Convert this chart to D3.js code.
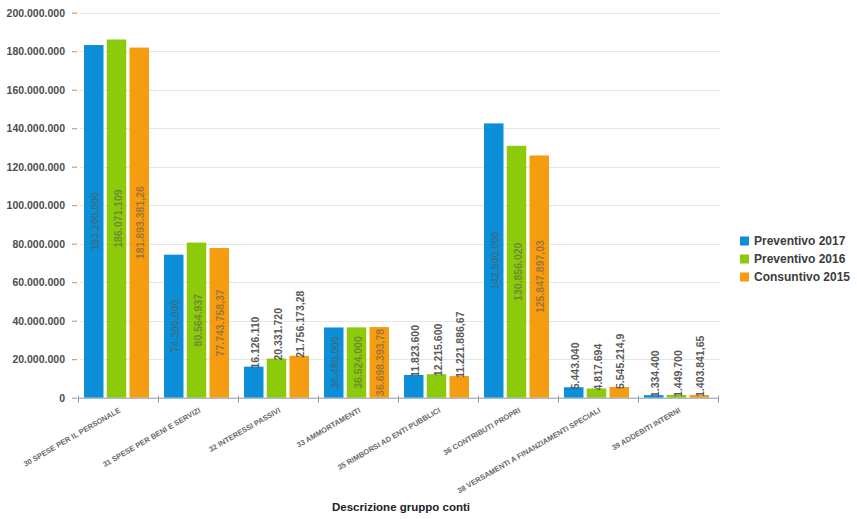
<!DOCTYPE html>
<html>
<head>
<meta charset="utf-8">
<script src="https://cdn.jsdelivr.net/npm/d3@7"></script>
<style>
  html, body { margin: 0; padding: 0; background: #fff; }
  svg { display: block; font-family: "Liberation Sans", Arial, sans-serif; }
</style>
</head>
<body>
<svg id="chart" width="857" height="519"></svg>
<script>
const categories = [
  "30 SPESE PER IL PERSONALE",
  "31 SPESE PER BENI E SERVIZI",
  "32 INTERESSI PASSIVI",
  "33 AMMORTAMENTI",
  "35 RIMBORSI AD ENTI PUBBLICI",
  "36 CONTRIBUTI PROPRI",
  "38 VERSAMENTI A FINANZIAMENTI SPECIALI",
  "39 ADDEBITI INTERNI"
];
const seriesNames = ["Preventivo 2017", "Preventivo 2016", "Consuntivo 2015"];
// Preventivo 2017 inner labels are unreadable in the reference: values
const preventivo2017 = [183200000, 74300000, 16126110, 36480000, 11823600, 142500000, 5443040, 1334400];
const preventivo2016 = [186071109, 80564937, 20331720, 36524000, 12215600, 130856020, 4817694, 1449700];
const consuntivo2015 = [181893381.26, 77743758.37, 21756173.28, 36698393.78, 11221886.67, 125847897.03, 5545214.9, 1403841.65];
const yTicks = [0, 20000000, 40000000, 60000000, 80000000, 100000000, 120000000, 140000000, 160000000, 180000000, 200000000];
const colors = ["#0b8fd8", "#8dca0a", "#f69c10"];
const xTitle = "Descrizione gruppo conti";

const seriesValues = [preventivo2017, preventivo2016, consuntivo2015];

const svg = d3.select("#chart");
const plotLeft = 78, plotRight = 718, plotTop = 12.7, plotBottom = 397.7;

const x0 = d3.scaleBand().domain(categories).range([plotLeft, plotRight]).padding(0);
const x1 = d3.scaleBand().domain(seriesNames).range([6, 71]).paddingInner(0.143).paddingOuter(0);
const y = d3.scaleLinear().domain([0, 200000000]).range([plotBottom, plotTop]);

// Italian number format
const itFmt = d3.formatLocale({decimal: ",", thousands: ".", grouping: [3], currency: ["€", ""]});
const fmtInt = itFmt.format(",d");
function fmtVal(v) {
  if (Number.isInteger(v)) return fmtInt(v);
  const s = String(v).split(".");
  return fmtInt(parseInt(s[0], 10)) + "," + s[1];
}

// gridlines
svg.append("g")
  .selectAll("line")
  .data(yTicks.filter(t => t > 0))
  .join("line")
  .attr("x1", plotLeft + 2).attr("x2", plotRight + 2)
  .attr("y1", d => Math.round(y(d)) + 0.5).attr("y2", d => Math.round(y(d)) + 0.5)
  .attr("stroke", "#e6e6e6").attr("stroke-width", 1);

// y axis
const yAxis = svg.append("g")
  .attr("transform", `translate(${plotLeft},0)`)
  .call(d3.axisLeft(y).tickValues(yTicks).tickSize(5).tickPadding(8).tickFormat(d => fmtInt(d)));
yAxis.select(".domain").remove();
yAxis.selectAll(".tick line").attr("stroke", "#999").attr("transform", "translate(-1,0)");
yAxis.selectAll(".tick text")
  .attr("fill", "#4d4d4d").attr("font-size", "10.5px").attr("font-weight", "bold")
  .attr("font-family", "Liberation Sans, Arial, sans-serif");

// bars
const groups = svg.append("g")
  .selectAll("g")
  .data(categories)
  .join("g")
  .attr("transform", d => `translate(${x0(d)},0)`);

const barData = (c, i) => seriesNames.map((s, k) => ({s, k, v: seriesValues[k][i]}));

groups.each(function(c, i) {
  const g = d3.select(this);
  const bd = barData(c, i);
  g.selectAll("rect")
    .data(bd)
    .join("rect")
    .attr("x", d => x1(d.s))
    .attr("width", x1.bandwidth())
    .attr("y", d => y(d.v))
    .attr("height", d => y(0) - y(d.v))
    .attr("fill", d => colors[d.k]);

  g.selectAll("text.val")
    .data(bd)
    .join("text")
    .attr("class", "val")
    .text(d => fmtVal(d.v))
    .attr("font-size", "10.5px")
    .attr("font-weight", "bold")
    .attr("dominant-baseline", "central")
    .each(function(d) {
      const t = d3.select(this);
      const h = y(0) - y(d.v);
      const cx = x1(d.s) + x1.bandwidth() / 2 + 1;
      if (h > 50) {
        const cy = (y(d.v) + y(0)) / 2;
        t.attr("text-anchor", "middle")
          .attr("transform", `translate(${cx},${cy}) rotate(-90)`)
          .attr("fill", "#555").attr("fill-opacity", 0.55);
      } else {
        t.attr("text-anchor", "start")
          .attr("transform", `translate(${cx},${y(d.v) + 2}) rotate(-90)`)
          .attr("fill", "#5a5a5a");
      }
    });
});

// x axis
const xAxisG = svg.append("g");
xAxisG.append("line")
  .attr("x1", plotLeft).attr("x2", plotRight)
  .attr("y1", plotBottom + 0.5).attr("y2", plotBottom + 0.5)
  .attr("stroke", "#8a9ab0").attr("stroke-width", 1);
xAxisG.selectAll("line.tk")
  .data(categories.concat(["__end"]))
  .join("line")
  .attr("class", "tk")
  .attr("x1", (d, i) => i < categories.length ? x0(d) + 0.5 : plotRight + 0.5)
  .attr("x2", (d, i) => i < categories.length ? x0(d) + 0.5 : plotRight + 0.5)
  .attr("y1", plotBottom - 2).attr("y2", plotBottom + 5)
  .attr("stroke", "#8a9ab0");

xAxisG.selectAll("text.cat")
  .data(categories)
  .join("text")
  .attr("class", "cat")
  .text(d => d)
  .attr("text-anchor", "end")
  .attr("font-size", "7.5px")
  .attr("font-weight", "bold")
  .attr("fill", "#6a6a6a")
  .attr("transform", d => `translate(${x0(d) + x0.bandwidth() / 2 + 3},${plotBottom + 14}) rotate(-30)`);

// axis title
svg.append("text")
  .attr("x", 401).attr("y", 511)
  .attr("text-anchor", "middle")
  .attr("font-size", "11.5px").attr("font-weight", "bold")
  .attr("fill", "#222")
  .text(xTitle);

// legend
const legend = svg.append("g")
  .selectAll("g")
  .data(seriesNames)
  .join("g")
  .attr("transform", (d, i) => `translate(740,${241 + i * 18})`);
legend.append("rect")
  .attr("x", 0).attr("y", -4.5).attr("width", 9).attr("height", 9)
  .attr("fill", (d, i) => colors[i]);
legend.append("text")
  .attr("x", 14).attr("y", 0)
  .attr("dominant-baseline", "central")
  .attr("font-size", "12px").attr("font-weight", "bold")
  .attr("fill", "#3c3c3c")
  .text(d => d);
</script>
</body>
</html>
